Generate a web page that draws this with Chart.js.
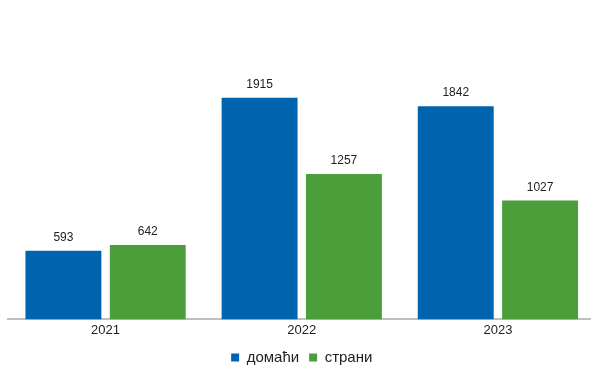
<!DOCTYPE html>
<html>
<head>
<meta charset="utf-8">
<script src="https://cdn.jsdelivr.net/npm/chart.js@4"></script>
<style>
  html, body { margin: 0; padding: 0; background: #fff; overflow: hidden; }
  #wrap { width: 596px; height: 367px; }
</style>
</head>
<body>
<div id="wrap"><canvas id="chart"></canvas></div>
<script>
const years = ['2021', '2022', '2023'];
const domestic = [593, 1915, 1842];
const foreign = [642, 1257, 1027];
const seriesNames = ['домаћи', 'страни'];

// draws value above each bar
const barValues = {
  id: 'barValues',
  afterDatasetsDraw(chart) {
    const ctx = chart.ctx;
    ctx.save();
    ctx.font = '12px "Liberation Sans", Arial, sans-serif';
    ctx.fillStyle = '#222';
    ctx.textAlign = 'center';
    ctx.textBaseline = 'bottom';
    chart.data.datasets.forEach((ds, i) => {
      chart.getDatasetMeta(i).data.forEach((bar, j) => {
        ctx.fillText(ds.data[j], bar.x, bar.y - 7);
      });
    });
    ctx.restore();
  }
};

new Chart(document.getElementById('chart'), {
  type: 'bar',
  data: {
    labels: years,
    datasets: [
      { label: seriesNames[0], data: domestic, backgroundColor: '#0063ad' },
      { label: seriesNames[1], data: foreign, backgroundColor: '#4c9e3a' }
    ]
  },
  options: {
    responsive: true,
    maintainAspectRatio: false,
    animation: false,
    categoryPercentage: 0.86,
    barPercentage: 0.9,
    layout: { padding: { top: 30, left: 7.5, right: 0, bottom: -8 } },
    scales: {
      x: {
        grid: { display: false, drawTicks: false },
        border: { color: '#bfbfbf', width: 2 },
        ticks: {
          color: '#222',
          padding: 3,
          font: { family: '"Liberation Sans", Arial, sans-serif', size: 13 }
        },
        afterFit(scale) { scale.height -= 1; }
      },
      y: {
        display: false,
        min: 0,
        max: 2500
      }
    },
    plugins: {
      legend: {
        position: 'bottom',
        labels: {
          boxWidth: 8,
          boxHeight: 8,
          padding: 10,
          color: '#222',
          font: { family: '"Liberation Sans", Arial, sans-serif', size: 15 }
        }
      },
      tooltip: { enabled: false }
    }
  },
  plugins: [barValues]
});
</script>
</body>
</html>
